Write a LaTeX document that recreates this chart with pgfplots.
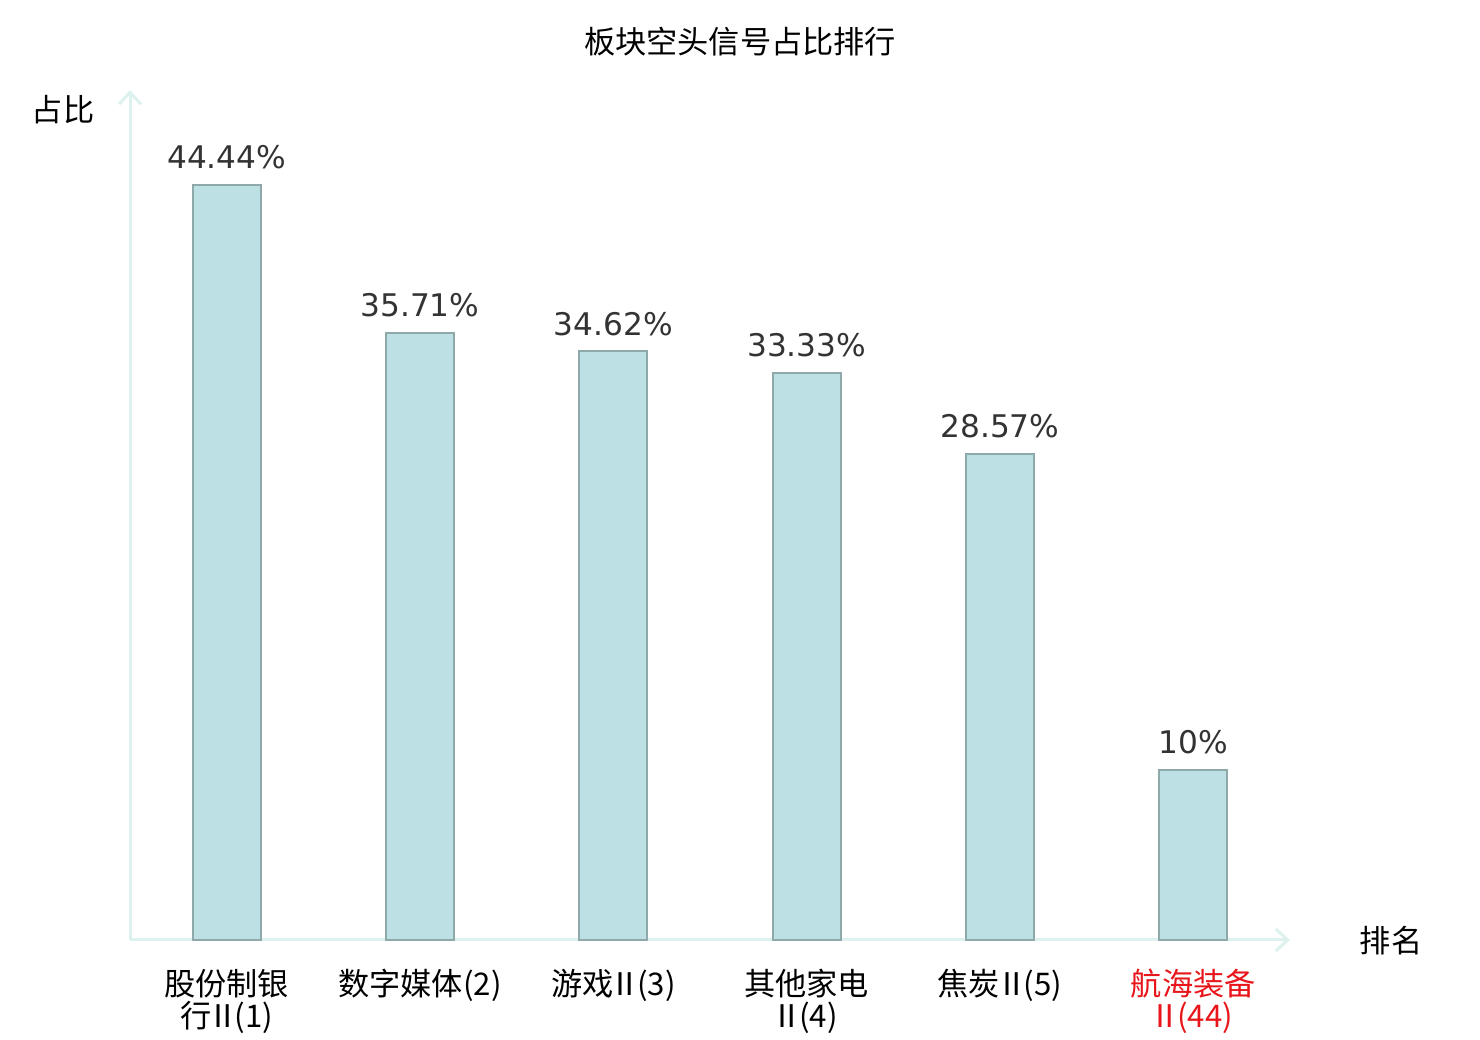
\documentclass[border=0pt]{standalone}
\usepackage{fontspec}
\setmainfont{DejaVu Sans}
\newfontfamily\cjk{Noto Sans CJK SC}
\usepackage{pgfplots}
\pgfplotsset{compat=1.18}
\usetikzlibrary{arrows.meta}
\definecolor{barfill}{HTML}{BCE0E3}
\definecolor{baredge}{HTML}{8FA8AA}
\definecolor{axcol}{HTML}{DDF1EE}
\definecolor{lblcol}{HTML}{333333}
\definecolor{redlbl}{HTML}{E8161B}
\newcommand{\II}{\kern-0.12em Ⅱ\kern-0.12em}
\begin{document}
\begin{tikzpicture}[x=1pt,y=1pt]
\useasboundingbox (0,0) rectangle (740,520);
\begin{axis}[
  at={(65pt,50pt)}, anchor=south west,
  scale only axis, width=580pt, height=425pt,
  xmin=-0.5, xmax=5.5, ymin=0, ymax=50,
  axis lines=left, separate axis lines,
  axis line style={draw=axcol, line width=1.5pt},
  x axis line style={-{Straight Barb[length=6pt,width=11pt,line width=1.5pt]}},
  y axis line style={-{Straight Barb[length=6pt,width=11pt,line width=1.5pt]}},
  ybar, bar width=34pt,
  ytick=\empty,
  xtick={0,1,2,3,4,5},
  major tick length=0pt,
  xticklabels={{股份制银\\行\II(1)}, {数字媒体(2)}, {游戏\II(3)}, {其他家电\\\II(4)}, {焦炭\II(5)}, {\color{redlbl}航海装备\\\color{redlbl}\II(44)}},
  xticklabel style={font=\cjk\fontsize{15.6}{16}\selectfont, align=center, yshift=-11pt},
  /pgf/number format/assume math mode=true,
  nodes near coords={\pgfmathprintnumber[fixed,precision=2]{\pgfplotspointmeta}\%},
  every node near coord/.append style={font=\fontsize{15.6}{18}\selectfont, text=lblcol, inner sep=2pt, yshift=5.5pt},
  clip=false,
]
\addplot[fill=barfill, draw=baredge, line width=1pt] coordinates {(0,44.44) (1,35.71) (2,34.62) (3,33.33) (4,28.57) (5,10)};
\end{axis}
\node[font=\cjk\fontsize{15.6}{18}\selectfont] at (370,499) {板块空头信号占比排行};
\node[font=\cjk\fontsize{15.6}{18}\selectfont] at (31.5,465) {占比};
\node[font=\cjk\fontsize{15.6}{18}\selectfont] at (695.5,49.5) {排名};
\end{tikzpicture}
\end{document}
